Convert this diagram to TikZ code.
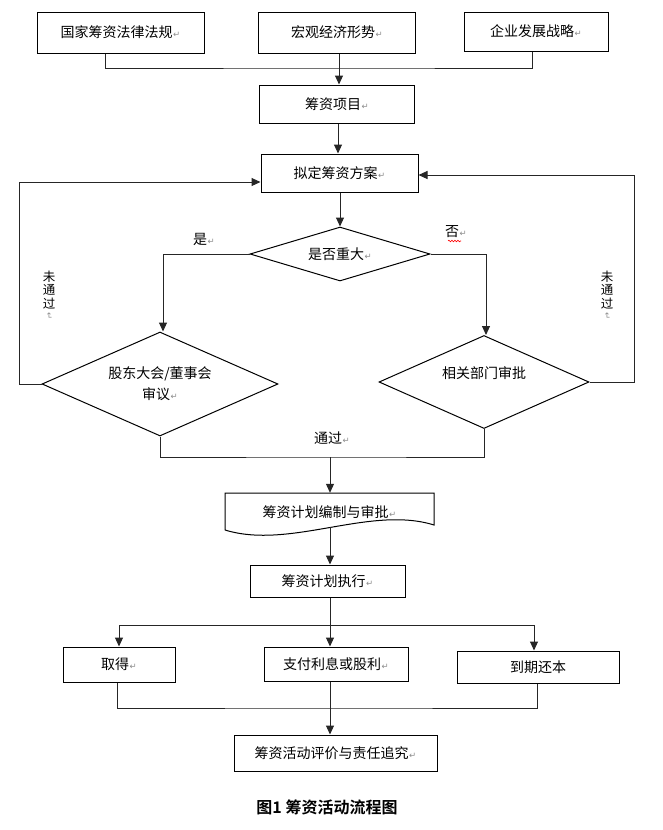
\documentclass[tikz,border=0pt]{standalone}
\usepackage{fontspec}
\setmainfont{Noto Sans CJK SC}[BoldFont={Noto Sans CJK SC Bold}]
\newfontfamily\symf{DejaVu Sans}
\usetikzlibrary{arrows.meta,shapes.geometric,decorations.pathmorphing}
\newcommand\parmk{\hspace{0.5pt}{\symf\fontsize{8.5}{8.5}\selectfont\textcolor{black!45}{↵}}}
\newcommand\vparmk{{\symf\fontsize{8.5}{8.5}\selectfont\textcolor{black!45}{\rotatebox{-90}{↵}}}}
\tikzset{
  ln/.style={line width=1pt, draw=black!85},
  box/.style={draw=black, line width=1pt, inner sep=0pt, font=\fontsize{14}{16}\selectfont},
  dia/.style={diamond, draw=black, line width=1pt, aspect=3, inner sep=0pt, font=\fontsize{14}{16}\selectfont},
  txt/.style={inner sep=0pt, font=\fontsize{14}{16}\selectfont},
  vtxt/.style={inner sep=0pt, align=center, font=\fontsize{12.5}{13.5}\selectfont},
  arr/.style={ln, -{Triangle[length=9pt,width=8pt]}}
}
\begin{document}
\begin{tikzpicture}[x=1pt,y=-1pt]
\useasboundingbox (0,0) rectangle (662,830);
% top boxes
\node[box, minimum width=167pt, minimum height=41pt] (b1) at (120.5,32.5) {国家筹资法律法规\parmk};
\node[box, minimum width=157pt, minimum height=41pt] (b2) at (337,32.5) {宏观经济形势\parmk};
\node[box, minimum width=144pt, minimum height=39pt] (b3) at (536,31.5) {企业发展战略\parmk};
\node[box, minimum width=155pt, minimum height=38pt] (proj) at (337,104) {筹资项目\parmk};
\node[box, minimum width=157pt, minimum height=38pt] (plan) at (339.5,173) {拟定筹资方案\parmk};
% diamonds
\node[dia, minimum width=180pt, minimum height=54pt] (d1) at (340,254) {是否重大\parmk};
\node[dia, minimum width=236pt, minimum height=104pt, align=center, font=\fontsize{14}{21}\selectfont] (d2) at (160,384) {股东大会/董事会\\审议\parmk};
\node[dia, minimum width=210pt, minimum height=93pt] (d3) at (484,382) {};
\node[txt] (d3t) at (484,373) {相关部门审批};
% document shape
\node[inner sep=0pt, minimum width=209pt, minimum height=37pt] (doc) at (329.5,511.5) {};
\draw[line width=1pt, draw=black] (225,530) -- (225,493) -- (434,493) -- (434,525)
   .. controls (370,505) and (290,550) .. (225,530);
\node[txt] (doct) at (329.5,512) {筹资计划编制与审批\parmk};
% lower boxes
\node[box, minimum width=155pt, minimum height=32pt] (exec) at (327.5,581) {筹资计划执行\parmk};
\node[box, minimum width=112pt, minimum height=35pt] (qd) at (119,664.5) {取得\parmk};
\node[box, minimum width=144pt, minimum height=34pt] (zf) at (336,664) {支付利息或股利\parmk};
\node[box, minimum width=162pt, minimum height=32pt] (dq) at (538,667) {到期还本};
\node[box, minimum width=203pt, minimum height=36pt] (fin) at (335.5,753) {筹资活动评价与责任追究\parmk};
% labels
\node[txt] (yes) at (204,239) {是\parmk};
\node[txt] (no) at (456,232) {否\parmk};
\draw[red, line width=0.6pt, decorate, decoration={snake, amplitude=0.8pt, segment length=3pt}] (448,241) -- (461,241);
\node[txt] (pass) at (332,438) {通过\parmk};
\node[vtxt] (nl) at (49,290) {未\\通\\过};
\node[inner sep=0pt] (nlm) at (49,316) {\vparmk};
\node[vtxt] (nr) at (607,290) {未\\通\\过};
\node[inner sep=0pt] (nrm) at (607,316) {\vparmk};
\node[inner sep=0pt, font=\bfseries\fontsize{16}{18}\selectfont] (cap) at (327,807) {图1 筹资活动流程图};
% merge points
\coordinate (m1) at (339,68);
\coordinate (m2) at (330,457);
\coordinate (m3) at (330,625);
\coordinate (m4) at (330,708);
% connectors
\draw[ln] ([xshift=-15.5pt]b1.south) |- (m1) -| ([xshift=-4pt]b3.south);
\draw[arr] ([xshift=2pt]b2.south) -- ([xshift=2pt]b2.south |- proj.north);
\draw[arr] ([xshift=1pt]proj.south) -- ([xshift=1pt]proj.south |- plan.north);
\draw[arr] (plan.south -| d1.north) -- (d1.north);
\draw[arr] (d1.west) -| ([xshift=3pt]d2.north);
\draw[arr] (d1.east) -| ([xshift=2pt]d3.north);
\draw[arr] (d2.west) -- ++(-22,0) |- ([yshift=-9pt]plan.west);
\draw[arr] (d3.east) -- ++(45,0) |- ([yshift=-2pt]plan.east);
\draw[ln] (d2.south) |- (m2) -| (d3.south);
\draw[arr] (m2) -- (m2 |- doc.north);
\draw[arr] ([yshift=3pt]m2 |- doc.south) -- (m2 |- exec.north);
\draw[ln] (m2 |- exec.south) -- (m3);
\draw[arr] (m3) -| (qd.north);
\draw[arr] (m3) -| ([xshift=-4pt]dq.north);
\draw[arr] (m3) -- (m3 |- zf.north);
\draw[ln] ([xshift=-2pt]qd.south) |- (m4) -| ([xshift=-1pt]dq.south);
\draw[arr] (m3 |- zf.south) -- (m3 |- fin.north);
\end{tikzpicture}
\end{document}
